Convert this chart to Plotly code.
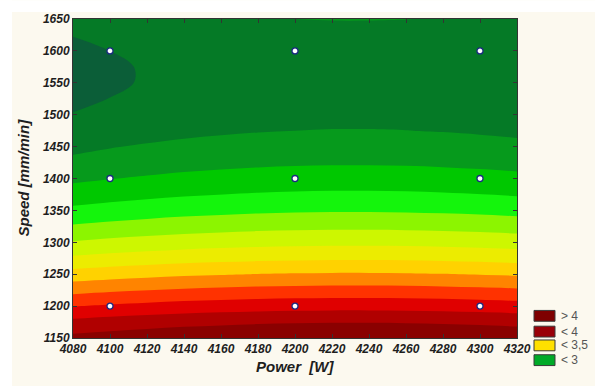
import plotly.graph_objects as go

# ---------------- data ----------------
power = [4080, 4100, 4120, 4140, 4160, 4180, 4200, 4220, 4240, 4260, 4280, 4300, 4320]
speed = [1150, 1175, 1200, 1225, 1250, 1275, 1300, 1325, 1350, 1375, 1400,
         1425, 1450, 1475, 1500, 1525, 1550, 1575, 1600, 1625, 1650]
# response along the ridge (power ~4230 W) for each speed
speed_profile = [4.095, 3.995, 3.865, 3.737, 3.610, 3.486, 3.376, 3.279, 3.191, 3.115, 3.049,
                 2.990, 2.947, 2.903, 2.872, 2.853, 2.843, 2.843, 2.852, 2.871, 2.903]
# shift of the response for each power relative to the ridge
power_offset = [-0.069, -0.052, -0.038, -0.025, -0.016, -0.008, -0.003,
                0.000, 0.000, -0.002, -0.007, -0.014, -0.023]

design_power = [4100, 4200, 4300, 4100, 4200, 4300, 4100, 4200, 4300]
design_speed = [1200, 1200, 1200, 1400, 1400, 1400, 1600, 1600, 1600]

level_start, level_end, level_step = 2.8, 4.0, 0.1
band_colors = ["#0b5e38", "#057a26", "#069a1c", "#00c800", "#14f50c", "#8cf500",
               "#cdf700", "#ecec00", "#ffd200", "#ff8400", "#ff3200", "#e00000",
               "#b00000", "#8a0000"]

legend_labels = ["> 4", "< 4", "< 3,5", "< 3"]
legend_colors = ["#7e0000", "#990008", "#ffe000", "#00aa28"]

x_ticks = list(range(4080, 4321, 20))
y_ticks = list(range(1150, 1651, 50))

# table required by the contour trace
z = [[sp + po for po in power_offset] for sp in speed_profile]
n_levels = round((level_end - level_start) / level_step) + 1
colorscale = [[i / n_levels, c] for i, c in enumerate(band_colors)]

# ---------------- figure ----------------
W, H = 595, 386
ML, MR, MT, MB = 73, 78, 14, 48
PW, PH = W - ML - MR, H - MT - MB


def px(xp):
    return (xp - ML) / PW


def py(yp):
    return (H - MB - yp) / PH


fig = go.Figure()
fig.add_trace(go.Contour(
    x=power, y=speed, z=z,
    contours=dict(start=level_start, end=level_end, size=level_step,
                  coloring="fill", showlines=False),
    colorscale=colorscale, showscale=False, line=dict(width=0),
    hoverinfo="skip",
))
fig.add_trace(go.Scatter(
    x=design_power, y=design_speed, mode="markers",
    marker=dict(size=6, color="white", line=dict(color="#1b2a80", width=1.3)),
    showlegend=False, hoverinfo="skip",
))

tickfont = dict(family="Liberation Sans, Arial, sans-serif", size=12,
                color="#1e1e1e", weight="bold", style="italic")
axis_common = dict(showgrid=False, zeroline=False, showline=True, linecolor="#333333",
                   linewidth=1, mirror="ticks", ticks="inside", ticklen=4,
                   tickcolor="#333333", tickwidth=1, tickfont=tickfont)

fig.update_xaxes(range=[4080, 4320], tickvals=x_ticks,
                 ticktext=[str(v) for v in x_ticks], **axis_common)
fig.update_yaxes(range=[1150, 1650], tickvals=y_ticks,
                 ticktext=[str(v) for v in y_ticks], **axis_common)

title_font = dict(family="Liberation Sans, Arial, sans-serif", size=15,
                  color="#1e1e1e", weight="bold", style="italic")
annotations = [
    dict(text="Power\u00a0 [W]", x=0.5, y=py(367), xref="paper", yref="paper",
         showarrow=False, xanchor="center", yanchor="middle", font=title_font),
    dict(text="Speed [mm/min]", x=px(24), y=py(175), xref="paper", yref="paper",
         showarrow=False, xanchor="center", yanchor="middle", textangle=-90,
         font=title_font),
]

shapes = [
    # white frame strips outside the cream panel
    dict(type="rect", xref="paper", yref="paper", x0=px(-5), x1=px(12),
         y0=py(H + 5), y1=py(-5), fillcolor="white", line=dict(width=0), layer="above"),
    dict(type="rect", xref="paper", yref="paper", x0=px(-5), x1=px(W + 5),
         y0=py(7), y1=py(-5), fillcolor="white", line=dict(width=0), layer="above"),
]

box_tops = [310, 326, 340, 355]
for lab, col, top in zip(legend_labels, legend_colors, box_tops):
    shapes.append(dict(type="rect", xref="paper", yref="paper",
                       x0=px(534), x1=px(555), y0=py(top + 11), y1=py(top),
                       fillcolor=col, line=dict(color="#3a3a3a", width=1)))
    annotations.append(dict(text=lab, x=px(559), y=py(top + 5.5), xref="paper",
                            yref="paper", showarrow=False, xanchor="left",
                            yanchor="middle",
                            font=dict(family="Liberation Sans, Arial, sans-serif",
                                      size=12, color="#555555")))

fig.update_layout(
    width=W, height=H,
    margin=dict(l=ML, r=MR, t=MT, b=MB, pad=0),
    paper_bgcolor="#fcf9ef", plot_bgcolor="#fcf9ef",
    showlegend=False,
    annotations=annotations, shapes=shapes,
)

fig.write_html(
    "out.html",
    config={"displayModeBar": False},
    post_script="document.body.style.margin='0';document.body.style.padding='0';"
                "document.body.style.overflow='hidden';",
)
